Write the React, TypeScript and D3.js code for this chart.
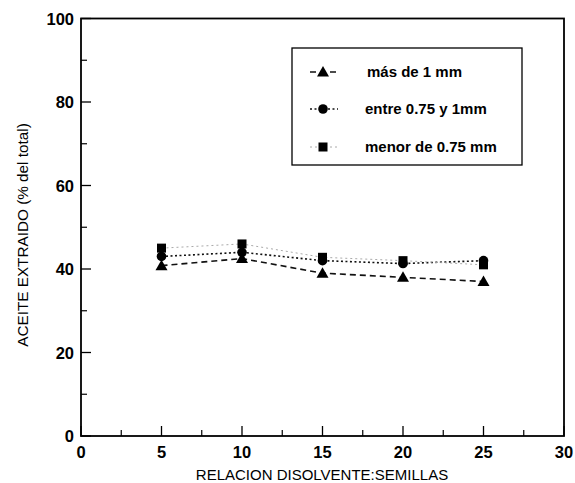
import React from "react";
import * as d3 from "d3";

const ratios = [5, 10, 15, 20, 25];
const masDe1mm = [40.8, 42.5, 39, 38, 37];
const entre075y1mm = [43, 44, 42, 41.3, 42];
const menorDe075mm = [45, 46, 42.8, 42, 41];
const xTicks = [0, 5, 10, 15, 20, 25, 30];
const yTicks = [0, 20, 40, 60, 80, 100];
const seriesNames = ["más de 1 mm", "entre 0.75 y 1mm", "menor de 0.75 mm"];

const W = 575, H = 483;
const M = { left: 81, right: 564, top: 18.5, bottom: 436 };

export default function App() {
  const x = d3.scaleLinear().domain([0, 30]).range([M.left, M.right]);
  const y = d3.scaleLinear().domain([0, 100]).range([M.bottom, M.top]);
  const line = d3.line<[number, number]>().x(d => x(d[0])).y(d => y(d[1]));
  const font = "'Liberation Sans', Arial, sans-serif";

  const tri = (cx: number, cy: number, s = 6) =>
    `M${cx},${cy - s}L${cx + s * 1.0},${cy + s * 0.75}L${cx - s * 1.0},${cy + s * 0.75}Z`;

  const series = [
    { vals: masDe1mm, dash: "6,4", stroke: "#111", width: 1.6, marker: "tri" },
    { vals: entre075y1mm, dash: "2,2.5", stroke: "#111", width: 1.6, marker: "circ" },
    { vals: menorDe075mm, dash: "2,3", stroke: "#aaa", width: 1, marker: "sq" },
  ];

  const marker = (m: string, cx: number, cy: number, key: string) => {
    if (m === "tri") return <path key={key} d={tri(cx, cy)} fill="#000" />;
    if (m === "circ") return <circle key={key} cx={cx} cy={cy} r={4.8} fill="#000" />;
    return <rect key={key} x={cx - 4.5} y={cy - 4.5} width={9} height={9} fill="#000" />;
  };

  const minorX = d3.range(0, 30.01, 2.5).filter(v => v % 5 !== 0);
  const minorY = d3.range(10, 100, 20);

  const legendRows = [72, 109, 147];

  return (
    <svg width={W} height={H} style={{ position: "absolute", left: 0, top: 0, background: "#fff" }}>
      <rect x={0} y={0} width={W} height={H} fill="#fff" />
      {/* frame */}
      <rect x={M.left} y={M.top} width={M.right - M.left} height={M.bottom - M.top} fill="none" stroke="#000" strokeWidth={1.8} />
      {/* x ticks */}
      {xTicks.map(t => (
        <g key={"xt" + t}>
          <line x1={x(t)} x2={x(t)} y1={M.bottom} y2={M.bottom - 10} stroke="#000" strokeWidth={1.3} />
          <text x={x(t)} y={458} textAnchor="middle" fontFamily={font} fontWeight="bold" fontSize={16.5}>{t}</text>
        </g>
      ))}
      {minorX.map(t => (
        <line key={"xm" + t} x1={x(t)} x2={x(t)} y1={M.bottom} y2={M.bottom - 6} stroke="#000" strokeWidth={1.2} />
      ))}
      {yTicks.map(t => (
        <g key={"yt" + t}>
          <line x1={M.left} x2={M.left + 10} y1={y(t)} y2={y(t)} stroke="#000" strokeWidth={1.3} />
          <text x={M.left - 7} y={y(t) + 6} textAnchor="end" fontFamily={font} fontWeight="bold" fontSize={16.5}>{t}</text>
        </g>
      ))}
      {minorY.map(t => (
        <line key={"ym" + t} x1={M.left} x2={M.left + 6} y1={y(t)} y2={y(t)} stroke="#000" strokeWidth={1.2} />
      ))}
      {/* axis titles */}
      <text x={322} y={480} textAnchor="middle" fontFamily={font} fontSize={15}>RELACION DISOLVENTE:SEMILLAS</text>
      <text transform={`translate(28,235) rotate(-90)`} textAnchor="middle" fontFamily={font} fontSize={15.3}>ACEITE EXTRAIDO (% del total)</text>
      {/* series */}
      {series.map((s, i) => (
        <g key={"s" + i}>
          <path d={line(ratios.map((r, j) => [r, s.vals[j]]) as [number, number][]) || ""} fill="none" stroke={s.stroke} strokeWidth={s.width} strokeDasharray={s.dash} />
          {ratios.map((r, j) => marker(s.marker, x(r), y(s.vals[j]), `m${i}-${j}`))}
        </g>
      ))}
      {/* legend */}
      <rect x={292} y={48} width={230} height={117} fill="#fff" stroke="#000" strokeWidth={1.3} />
      {series.map((s, i) => (
        <g key={"lg" + i}>
          <line x1={310} x2={338} y1={legendRows[i]} y2={legendRows[i]} stroke={s.stroke} strokeWidth={s.width} strokeDasharray={s.dash} />
          {marker(s.marker, 323, legendRows[i], "lm" + i)}
          <text x={i === 0 ? 367 : 365} y={legendRows[i] + 5} fontFamily={font} fontWeight="bold" fontSize={15}>{seriesNames[i]}</text>
        </g>
      ))}
    </svg>
  );
}
